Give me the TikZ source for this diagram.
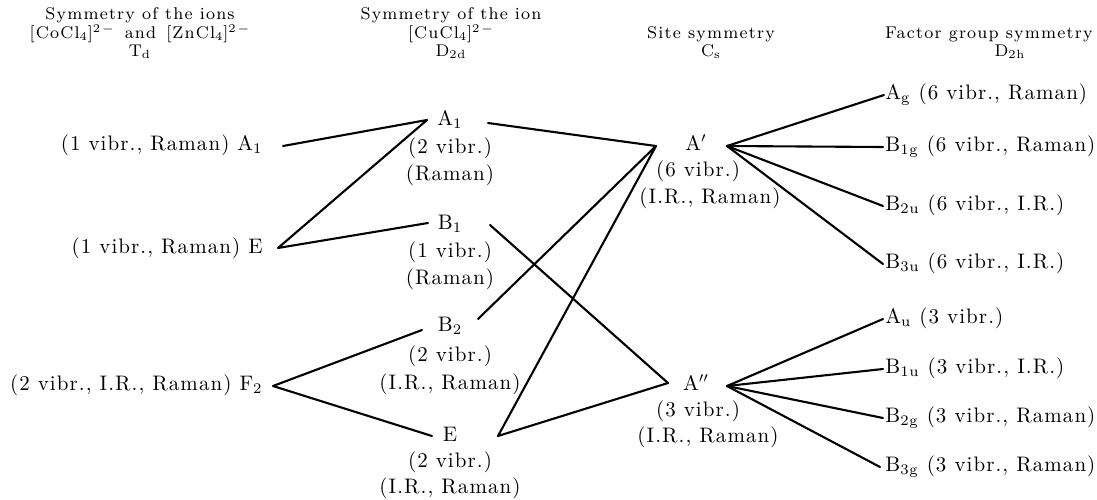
\documentclass[tikz,border=0pt]{standalone}
\usepackage{fontspec}
\newcommand\dn[1]{\textsubscript{#1}}
\newcommand\up[1]{\textsuperscript{#1}}
\newcommand\ion[1]{[#1Cl\dn{4}]\up{2\,$-$}}
\newfontface\bodyface{Latin Modern Roman}[LetterSpace=5]
\newfontface\headface{Latin Modern Roman}[LetterSpace=7]
\begin{document}
\begin{tikzpicture}[x=0.5pt,y=-0.5pt,
  lab/.style={font=\fontsize{10.5}{12}\bodyface,inner sep=0pt},
  head/.style={font=\fontsize{8.5}{9}\headface,inner sep=0pt,anchor=base},
  link/.style={line width=1.05pt,line cap=round,line join=round}]
\useasboundingbox (0,0) rectangle (1097,499);

% column headings
\node[head] (h1a) at (140,19) {Symmetry of the ions};
\node[head] (h1b) at (140,38) {\ion{Co}\, and\, \ion{Zn}};
\node[head] (h1c) at (140,56) {T\dn{d}};
\node[head] (h2a) at (451,19) {Symmetry of the ion};
\node[head] (h2b) at (451,38) {\ion{Cu}};
\node[head] (h2c) at (451,56) {D\dn{2d}};
\node[head] (h3b) at (711,38) {Site symmetry};
\node[head] (h3c) at (711,56) {C\dn{s}};
\node[head,anchor=base east] (h4b) at (1093,38) {Factor group symmetry};
\node[head] (h4c) at (1010,56) {D\dn{2h}};

% T_d species
\node[lab,anchor=mid east] (tA1) at (263,146) {(1 vibr., Raman) A\dn{1}};
\node[lab,anchor=mid east] (tE)  at (263,249) {(1 vibr., Raman) E};
\node[lab,anchor=mid east] (tF2) at (263,386) {(2 vibr., I.R., Raman) F\dn{2}};

% D_2d species
\node[lab,anchor=mid] (dA1) at (450,121) {A\dn{1}};
\node[lab,anchor=mid] (dA1v) at (450,149) {(2 vibr.)};
\node[lab,anchor=mid] (dA1r) at (450,176) {(Raman)};
\node[lab,anchor=mid] (dB1) at (450,225) {B\dn{1}};
\node[lab,anchor=mid] (dB1v) at (450,253) {(1 vibr.)};
\node[lab,anchor=mid] (dB1r) at (450,280) {(Raman)};
\node[lab,anchor=mid] (dB2) at (450,327) {B\dn{2}};
\node[lab,anchor=mid] (dB2v) at (450,357) {(2 vibr.)};
\node[lab,anchor=mid] (dB2r) at (450,385) {(I.R., Raman)};
\node[lab,anchor=mid] (dE) at (450,437) {E};
\node[lab,anchor=mid] (dEv) at (450,463) {(2 vibr.)};
\node[lab,anchor=mid] (dEr) at (450,489) {(I.R., Raman)};

% C_s species
\node[lab,anchor=mid] (sA1) at (696,146) {A$'$};
\node[lab,anchor=mid] (sA1v) at (698,172) {(6 vibr.)};
\node[lab,anchor=mid] (sA1r) at (710,199) {(I.R., Raman)};
\node[lab,anchor=mid] (sA2) at (696,386) {A$''$};
\node[lab,anchor=mid] (sA2v) at (698,412) {(3 vibr.)};
\node[lab,anchor=mid] (sA2r) at (708,438) {(I.R., Raman)};

% D_2h species
\node[lab,anchor=mid west] (fAg)  at (885,95)  {A\dn{g} (6 vibr., Raman)};
\node[lab,anchor=mid west] (fB1g) at (885,147) {B\dn{1g} (6 vibr., Raman)};
\node[lab,anchor=mid west] (fB2u) at (885,206) {B\dn{2u} (6 vibr., I.R.)};
\node[lab,anchor=mid west] (fB3u) at (885,264) {B\dn{3u} (6 vibr., I.R.)};
\node[lab,anchor=mid west] (fAu)  at (885,319) {A\dn{u} (3 vibr.)};
\node[lab,anchor=mid west] (fB1u) at (885,369) {B\dn{1u} (3 vibr., I.R.)};
\node[lab,anchor=mid west] (fB2g) at (885,418) {B\dn{2g} (3 vibr., Raman)};
\node[lab,anchor=mid west] (fB3g) at (885,467) {B\dn{3g} (3 vibr., Raman)};

% connector end points
\coordinate (pA1) at (283,146);
\coordinate (pE)  at (278,248);
\coordinate (pF2) at (273,386);
\coordinate (qA1i) at (427,120);
\coordinate (qA1o) at (488,123);
\coordinate (qB1i) at (428,223);
\coordinate (qB1o) at (490,225);
\coordinate (qB2i) at (422,330);
\coordinate (qB2o) at (478,319);
\coordinate (qEi) at (432,436);
\coordinate (qEo) at (498,436);
\coordinate (rA1i) at (656,146);
\coordinate (rA1o) at (727,146);
\coordinate (rA2i) at (668,383);
\coordinate (rA2o) at (727,386);
\coordinate (gAg)  at (884,95);
\coordinate (gB1g) at (883,147);
\coordinate (gB2u) at (883,206);
\coordinate (gB3u) at (883,264);
\coordinate (gAu)  at (883,319);
\coordinate (gB1u) at (883,369);
\coordinate (gB2g) at (883,418);
\coordinate (gB3g) at (880,467);

% T_d -> D_2d
\draw[link] (pA1) -- (qA1i) -- (pE) -- (qB1i);
\draw[link] (qB2i) -- (pF2) -- (qEi);
% D_2d -> C_s
\draw[link] (qA1o) -- (rA1i) -- (qB2o);
\draw[link] (rA1i) -- (qEo) -- (rA2i) -- (qB1o);
% C_s -> D_2h
\foreach \t in {gAg,gB1g,gB2u,gB3u} \draw[link] (rA1o) -- (\t);
\foreach \t in {gAu,gB1u,gB2g,gB3g} \draw[link] (rA2o) -- (\t);
\end{tikzpicture}
\end{document}
